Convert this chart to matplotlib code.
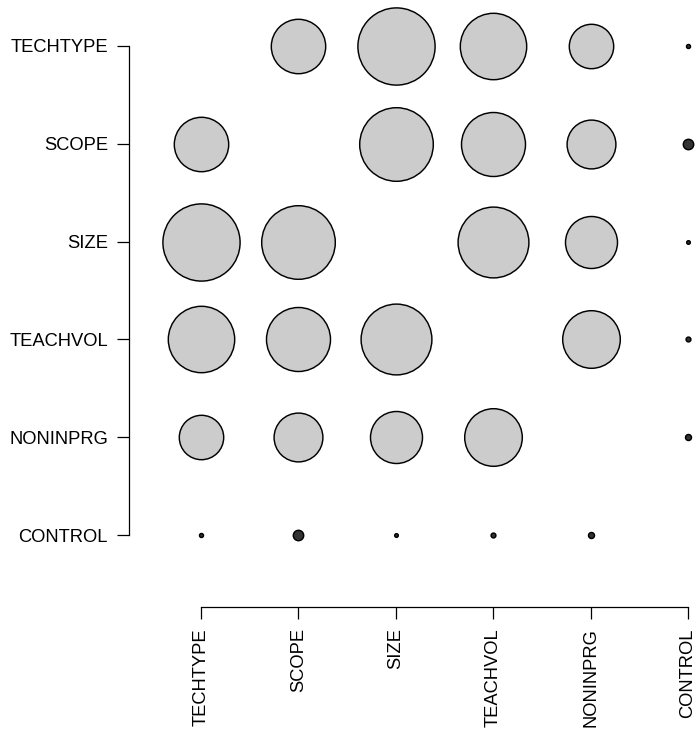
import numpy as np
import matplotlib
matplotlib.use("Agg")
import matplotlib.pyplot as plt

plt.rcParams['font.family'] = ['Liberation Sans', 'DejaVu Sans']

variables = ["TECHTYPE", "SCOPE", "SIZE", "TEACHVOL", "NONINPRG", "CONTROL"]

# pairwise correlations (upper triangle, row by row)
techtype = [None, 0.68, 0.965, 0.83, 0.555, -0.05]
scope    = [0.68, None, 0.92, 0.80, 0.61, -0.13]
size     = [0.965, 0.92, None, 0.885, 0.65, -0.045]
teachvol = [0.83, 0.80, 0.885, None, 0.72, -0.06]
noninprg = [0.555, 0.61, 0.65, 0.72, None, -0.075]
control  = [-0.05, -0.13, -0.045, -0.06, -0.075, None]
rows = [techtype, scope, size, teachvol, noninprg, control]

DPI = 100
fig = plt.figure(figsize=(7.0, 7.29), dpi=DPI)
W, H = 700, 729
x0, x1 = 201, 688
y0, y1 = 46, 535
ax = fig.add_axes([x0 / W, 1 - y1 / H, (x1 - x0) / W, (y1 - y0) / H])
n = len(variables)
ax.set_xlim(0, n - 1)
ax.set_ylim(n - 1, 0)

px_per_unit = 40.0  # circle radius in pixels per unit |r|
for i, row in enumerate(rows):
    for j, r in enumerate(row):
        if r is None:
            continue
        rad_pt = abs(r) * px_per_unit * 72.0 / DPI
        face = "#cccccc" if r > 0 else "#333333"
        ax.scatter([j], [i], s=(2 * rad_pt) ** 2, c=face, edgecolors="black",
                   linewidths=1.05, clip_on=False, zorder=3)

ax.set_xticks(range(n))
ax.set_xticklabels(variables)
ax.set_yticks(range(n))
ax.set_yticklabels(variables)

off_pt = 72 * 72.0 / DPI
ax.spines["left"].set_position(("outward", off_pt))
ax.spines["bottom"].set_position(("outward", off_pt))
ax.spines["left"].set_bounds(0, n - 1)
ax.spines["bottom"].set_bounds(0, n - 1)
for s in ("top", "right"):
    ax.spines[s].set_visible(False)
for s in ("left", "bottom"):
    ax.spines[s].set_linewidth(0.9)

tick_len = 12 * 72.0 / DPI
ax.tick_params(axis="both", length=tick_len, width=0.9, labelsize=13.2,
               pad=9 * 72.0 / DPI, colors="black")
ax.tick_params(axis="x", labelrotation=90)
for lab in ax.get_xticklabels():
    lab.set_verticalalignment("top")
    lab.set_horizontalalignment("center")

fig.savefig("out.png", dpi=DPI)
